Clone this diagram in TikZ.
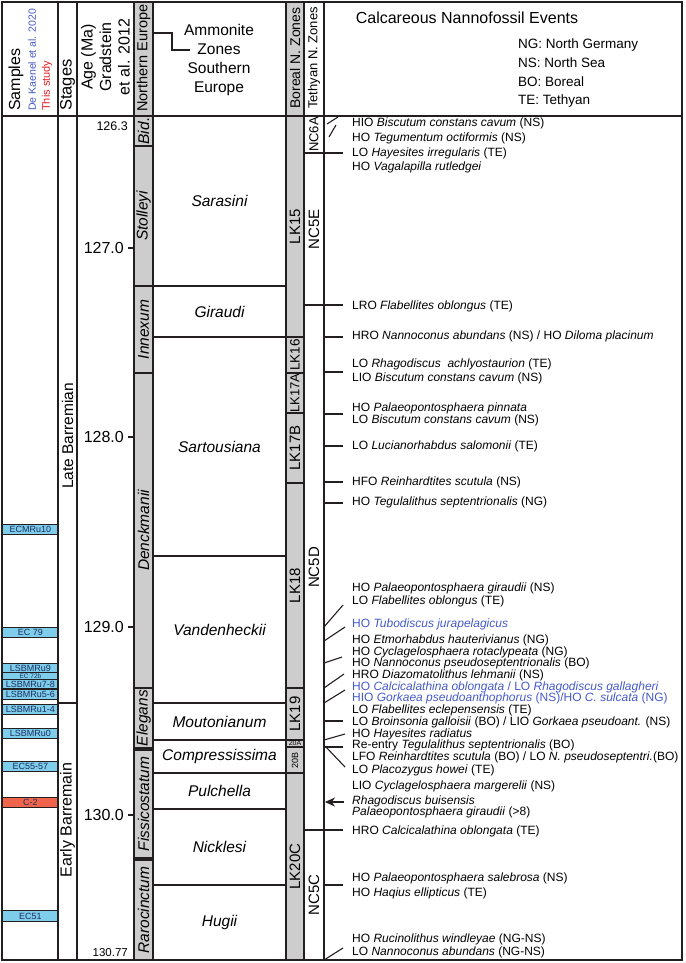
\documentclass[tikz,border=0pt]{standalone}
\usepackage{fontspec}
\setmainfont{Liberation Sans}
\usetikzlibrary{arrows.meta,positioning}
\definecolor{zonegray}{RGB}{205,205,205}
\definecolor{sampleblue}{RGB}{125,205,235}
\definecolor{samplered}{RGB}{240,100,75}
\definecolor{sampletext}{RGB}{30,45,95}
\definecolor{refblue}{RGB}{70,90,200}
\definecolor{refred}{RGB}{230,30,40}
\definecolor{ink}{RGB}{35,31,32}
\newcommand{\px}[1]{\fontsize{#1}{#1}\selectfont}

\tikzset{
  rule/.style={draw=ink, line width=1.3pt},
  tick/.style={draw=ink, line width=1.1pt},
  nzone/.style={draw=ink, line width=1.2pt, fill=zonegray, rotate=90, inner sep=0pt,
                minimum height=19pt, font=\px{15.5}\itshape},
  bzone/.style={draw=ink, line width=1.2pt, fill=zonegray, rotate=90, inner sep=0pt,
                minimum height=18pt, font=\px{15}},
  tzone/.style={draw=ink, line width=1.2pt, fill=white, rotate=90, inner sep=0pt,
                minimum height=20pt, font=\px{15}},
  amzone/.style={draw=ink, line width=1.2pt, inner sep=0pt, minimum width=133pt,
                 font=\px{15.5}\itshape},
  samplebox/.style={draw=ink, line width=0.9pt, fill=sampleblue, anchor=north west,
                    inner sep=0pt, minimum width=56pt, text=sampletext, font=\px{9}},
  agelabel/.style={anchor=east, inner sep=0pt, font=\px{16}},
  headlabel/.style={rotate=90, anchor=west, inner sep=0pt},
  evt/.style={anchor=west, inner sep=0pt, font=\px{12}, text height=8.6pt, text depth=2.6pt},
  newevt/.style={evt, text=refblue},
}

\begin{document}
\begin{tikzpicture}[x=1pt, y=-1pt]
    \useasboundingbox (0,0) rectangle (685,963);

    % Header shading for the gray columns
    \fill[zonegray] (134,2) rectangle (153,116);
    \fill[zonegray] (286,2) rectangle (304,116);

    % Header texts
    \node[headlabel, font=\px{16}] (hsamples) at (16,111) {Samples};
    \node[headlabel, font=\px{10.5}, text=refblue] (hdekaenel) at (32,111) {De Kaenel et al. 2020};
    \node[headlabel, font=\px{11}, text=refred] (hthisstudy) at (47,111) {This study};
    \node[headlabel, font=\px{16.5}] (hstages) at (67.5,111) {Stages};
    \node[rotate=90, align=center, inner sep=0pt, font=\fontsize{16}{18.5}\selectfont]
        (hage) at (105.5,57) {Age (Ma)\\Gradstein\\et al. 2012};
    \node[rotate=90, inner sep=0pt, font=\px{14.5}] (hnorth) at (143.5,58) {Northern Europe};
    \node[align=center, inner sep=0pt, font=\fontsize{15.5}{18.7}\selectfont]
        (hsouth) at (219,60) {Ammonite\\Zones\\Southern\\Europe};
    \node[rotate=90, inner sep=0pt, font=\px{14}] (hboreal) at (295,58) {Boreal N. Zones};
    \node[rotate=90, inner sep=0pt, font=\px{13}] (htethyan) at (314,58) {Tethyan N. Zones};
    \node[inner sep=0pt, font=\px{16}] (hevents) at (467,18) {Calcareous Nannofossil Events};

    % Region key
    \node[anchor=west, inner sep=0pt, font=\px{13.5}] (keyng) at (518,45) {NG: North Germany};
    \node[anchor=west, inner sep=0pt, font=\px{13.5}] (keyns) at (518,63) {NS: North Sea};
    \node[anchor=west, inner sep=0pt, font=\px{13.5}] (keybo) at (518,82) {BO: Boreal};
    \node[anchor=west, inner sep=0pt, font=\px{13.5}] (keyte) at (518,101) {TE: Tethyan};

    % Bracket from Northern Europe to the ammonite header
    \draw[rule] (153,33) -- (172,33) -- (172,50) -- (190,50);

    % Northern Europe ammonite zones
    \node[nzone, minimum width=30pt] (bid) at (143.5,131) {Bid.};
    \node[nzone, minimum width=140pt] (stolleyi) at (143.5,216) {Stolleyi};
    \node[nzone, minimum width=87pt] (innexum) at (143.5,329.5) {Innexum};
    \node[nzone, minimum width=315pt] (denckmanii) at (143.5,530.5) {Denckmanii};
    \node[nzone, minimum width=60pt] (elegans) at (143.5,718) {Elegans};
    \node[nzone, minimum width=108pt] (fissicostatum) at (143.5,804) {Fissicostatum};
    \node[nzone, minimum width=100pt] (rarocinctum) at (143.5,910) {Rarocinctum};

    % Southern Europe ammonite zones
    \node[amzone, minimum height=170pt] (sarasini) at (219.5,201) {Sarasini};
    \node[amzone, minimum height=51pt] (giraudi) at (219.5,311.5) {Giraudi};
    \node[amzone, minimum height=219pt] (sartousiana) at (219.5,446.5) {Sartousiana};
    \node[amzone, minimum height=147pt] (vandenheckii) at (219.5,629.5) {Vandenheckii};
    \node[amzone, minimum height=37pt] (moutonianum) at (219.5,721.5) {Moutonianum};
    \node[amzone, minimum height=33pt] (compressissima) at (219.5,756.5) {Compressissima};
    \node[amzone, minimum height=36pt] (pulchella) at (219.5,791) {Pulchella};
    \node[amzone, minimum height=76pt] (nicklesi) at (219.5,847) {Nicklesi};
    \node[amzone, minimum height=75pt] (hugii) at (219.5,922.5) {Hugii};

    % Boreal nannofossil zones
    \node[bzone, minimum width=221pt] (lk15) at (295,226.5) {LK15};
    \node[bzone, minimum width=36pt, font=\px{13.5}] (lk16) at (295,355) {LK16};
    \node[bzone, minimum width=40pt, font=\px{13}] (lk17a) at (295,393) {LK17A};
    \node[bzone, minimum width=70pt] (lk17b) at (295,448) {LK17B};
    \node[bzone, minimum width=205pt] (lk18) at (295,585.5) {LK18};
    \node[bzone, minimum width=52pt] (lk19) at (295,714) {LK19};
    \node[draw=ink, line width=0.9pt, fill=zonegray, inner sep=0pt, minimum width=18pt,
          minimum height=7pt, font=\px{7}] (lk20a) at (295,743.5) {20A};
    \node[bzone, minimum width=26pt, font=\px{9}] (lk20b) at (295,760) {20B};
    \node[bzone, minimum width=187pt] (lk20c) at (295,866.5) {LK20C};

    % Tethyan nannofossil zones
    \node[tzone, minimum width=37pt, font=\px{13}] (nc6a) at (314,134.5) {NC6A};
    \node[tzone, minimum width=152pt] (nc5e) at (314,229) {NC5E};
    \node[tzone, minimum width=525pt] (nc5d) at (314,567.5) {NC5D};
    \node[tzone, minimum width=130pt] (nc5c) at (314,895) {NC5C};

    % Samples
    \node[samplebox, minimum height=10pt] (ecmru10) at (2,524) {ECMRu10};
    \node[samplebox, minimum height=10pt] (ec79) at (2,627) {EC 79};
    \node[samplebox, minimum height=9pt] (lsbmru9) at (2,663) {LSBMRu9};
    \node[samplebox, minimum height=7pt, font=\px{6.5}] (ec72b) at (2,672) {EC 72b};
    \node[samplebox, minimum height=9pt] (lsbmru78) at (2,679) {LSBMRu7-8};
    \node[samplebox, minimum height=10pt] (lsbmru56) at (2,689) {LSBMRu5-6};
    \node[samplebox, minimum height=10pt] (lsbmru14) at (2,704) {LSBMRu1-4};
    \node[samplebox, minimum height=10pt] (lsbmru0) at (2,728) {LSBMRu0};
    \node[samplebox, minimum height=10pt] (ec5557) at (2,761) {EC55-57};
    \node[samplebox, minimum height=10pt, fill=samplered] (c2) at (2,797) {C-2};
    \node[samplebox, minimum height=11pt] (ec51) at (2,910) {EC51};

    % Stages
    \node[rotate=90, inner sep=0pt, font=\px{15.5}] (late) at (67.5,436) {Late Barremian};
    \node[rotate=90, inner sep=0pt, font=\px{16}] (early) at (67.5,820) {Early Barremain};
    \draw[rule] (58,703) -- (77,703);

    % Age scale
    \node[agelabel, font=\px{12.5}] (a1263) at (128,126) {126.3};
    \node[agelabel] (a127) at (124,248) {127.0};
    \node[agelabel] (a128) at (124,437) {128.0};
    \node[agelabel] (a129) at (124,627) {129.0};
    \node[agelabel] (a130) at (124,815) {130.0};
    \node[agelabel, font=\px{11.5}] (a13077) at (128,953) {130.77};
    \draw[rule] (128,248) -- (134,248);
    \draw[rule] (128,437) -- (134,437);
    \draw[rule] (128,627) -- (134,627);
    \draw[rule] (128,815) -- (134,815);

    % Column rules and frame
    \draw[rule] (2,116) -- (682,116);
    \draw[rule] (58,2) -- (58,960);
    \draw[rule] (77,2) -- (77,960);
    \draw[rule] (134,2) -- (134,960);
    \draw[rule] (153,2) -- (153,960);
    \draw[rule] (286,2) -- (286,960);
    \draw[rule] (304,2) -- (304,960);
    \draw[rule] (324,2) -- (324,960);
    \draw[draw=ink, line width=1.5pt] (2,2) rectangle (682,960);

    % Nannofossil events
    \node[evt] (e1) at (352,124) {HIO \textit{Biscutum constans cavum} (NS)};
    \node[evt] (e2) at (352,138) {HO \textit{Tegumentum octiformis} (NS)};
    \node[evt] (e3) at (352,153) {LO \textit{Hayesites irregularis} (TE)};
    \node[evt] (e4) at (352,167) {HO \textit{Vagalapilla rutledgei}};
    \node[evt] (e5) at (352,306) {LRO \textit{Flabellites oblongus} (TE)};
    \node[evt] (e6) at (352,336) {HRO \textit{Nannoconus abundans} (NS) / HO \textit{Diloma placinum}};
    \node[evt] (e7) at (352,364) {LO \textit{Rhagodiscus~ achlyostaurion} (TE)};
    \node[evt] (e8) at (352,378) {LIO \textit{Biscutum constans cavum} (NS)};
    \node[evt] (e9) at (352,408) {HO \textit{Palaeopontosphaera pinnata}};
    \node[evt] (e10) at (352,420) {LO \textit{Biscutum constans cavum} (NS)};
    \node[evt] (e11) at (352,446) {LO \textit{Lucianorhabdus salomonii} (TE)};
    \node[evt] (e12) at (352,482) {HFO \textit{Reinhardtites scutula} (NS)};
    \node[evt] (e13) at (352,502) {HO \textit{Tegulalithus septentrionalis} (NG)};
    \node[evt] (e14) at (352,588) {HO \textit{Palaeopontosphaera giraudii} (NS)};
    \node[evt] (e15) at (352,601) {LO \textit{Flabellites oblongus} (TE)};
    \node[newevt] (e16) at (352,624) {HO \textit{Tubodiscus jurapelagicus}};
    \node[evt] (e17) at (352,640) {HO \textit{Etmorhabdus hauterivianus} (NG)};
    \node[evt] (e18) at (352,652) {HO \textit{Cyclagelosphaera rotaclypeata} (NG)};
    \node[evt] (e19) at (352,663) {HO \textit{Nannoconus pseudoseptentrionalis} (BO)};
    \node[evt] (e20) at (352,675) {HRO \textit{Diazomatolithus lehmanii} (NS)};
    \node[newevt] (e21) at (352,687) {HO \textit{Calcicalathina oblongata} / LO \textit{Rhagodiscus gallagheri}};
    \node[newevt] (e22) at (352,698) {HIO \textit{Gorkaea pseudoanthophorus} (NS)/HO \textit{C. sulcata} (NG)};
    \node[evt] (e23) at (352,710) {LO \textit{Flabellites eclepensensis} (TE)};
    \node[evt] (e24) at (352,722) {LO \textit{Broinsonia galloisii} (BO) / LIO \textit{Gorkaea pseudoant.} (NS)};
    \node[evt] (e25) at (352,734) {HO \textit{Hayesites radiatus}};
    \node[evt] (e26) at (352,745.5) {Re-entry \textit{Tegulalithus septentrionalis} (BO)};
    \node[evt] (e27) at (352,757) {LFO \textit{Reinhardtites scutula} (BO) / LO \textit{N. pseudoseptentri.}(BO)};
    \node[evt] (e28) at (352,770) {LO \textit{Placozygus howei} (TE)};
    \node[evt] (e29) at (352,786) {LIO \textit{Cyclagelosphaera margerelii} (NS)};
    \node[evt] (e30) at (352,801) {\textit{Rhagodiscus buisensis}};
    \node[evt] (e31) at (352,812) {\textit{Palaeopontosphaera giraudii} (>8)};
    \node[evt] (e32) at (352,831) {HRO \textit{Calcicalathina oblongata} (TE)};
    \node[evt] (e33) at (352,878) {HO \textit{Palaeopontosphaera salebrosa} (NS)};
    \node[evt] (e34) at (352,893) {HO \textit{Haqius ellipticus} (TE)};
    \node[evt] (e35) at (352,939) {HO \textit{Rucinolithus windleyae} (NG-NS)};
    \node[evt] (e36) at (352,952) {LO \textit{Nannoconus abundans} (NG-NS)};

    % Event ticks
    \draw[tick] (327,124) -- (338,117);
    \draw[tick] (329,137) -- (336,125);
    \draw[tick] (304,153) -- (343,153);
    \draw[tick] (304,305) -- (343,305);
    \draw[tick] (324,337) -- (343,337);
    \draw[tick] (324,372) -- (343,372);
    \draw[tick] (324,414) -- (343,414);
    \draw[tick] (324,446) -- (343,446);
    \draw[tick] (324,482) -- (343,482);
    \draw[tick] (324,503) -- (343,503);
    \draw[tick] (324,627) -- (343,605);
    \draw[tick] (324,641) -- (345,627);
    \draw[tick] (324,663) -- (342,657);
    \draw[tick] (324,688) -- (344,674);
    \draw[tick] (324,703) -- (345,690);
    \draw[tick] (324,721) -- (343,721);
    \draw[tick] (324,740) -- (345,734);
    \draw[tick] (324,747) -- (343,747);
    \draw[tick] (326,747) -- (345,767);
    \draw[tick, -{Stealth[length=10pt, width=9pt]}] (344,802) -- (325,802);
    \draw[tick] (304,830) -- (343,830);
    \draw[tick] (324,885) -- (343,885);
    \draw[tick] (324,960) -- (343,948);
\end{tikzpicture}
\end{document}
